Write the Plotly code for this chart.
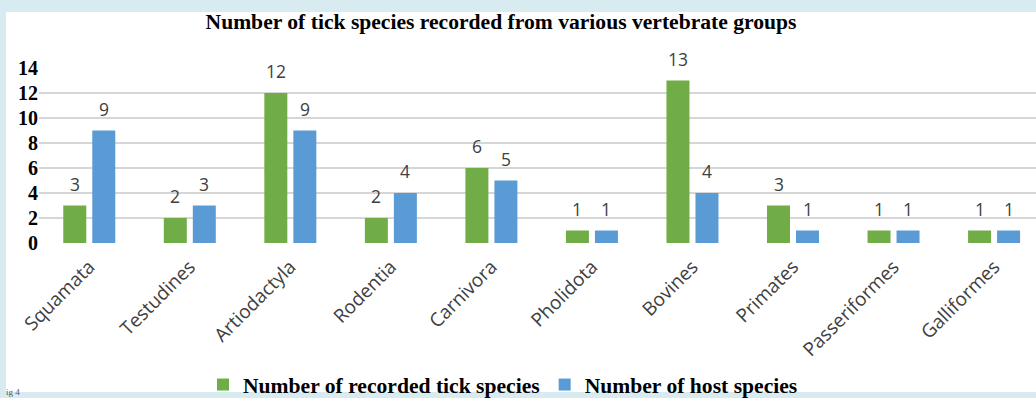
import plotly.graph_objects as go

categories = ["Squamata", "Testudines", "Artiodactyla", "Rodentia", "Carnivora",
              "Pholidota", "Bovines", "Primates", "Passeriformes", "Galliformes"]
tick_species = [3, 2, 12, 2, 6, 1, 13, 3, 1, 1]
host_species = [9, 3, 9, 4, 5, 1, 4, 1, 1, 1]
series_names = ["Number of recorded tick species", "Number of host species"]
y_ticks = [0, 2, 4, 6, 8, 10, 12, 14]

W, H = 1036, 398
L, R, T, B = 39, 0, 68, 155
pw, ph = W - L - R, H - T - B

GREEN = "#70ad47"
BLUE = "#5b9bd5"
LABEL = "#404040"
FRAME = "#d7ebf1"

fig = go.Figure()
fig.add_trace(go.Bar(x=categories, y=tick_species, name=series_names[0],
                     marker=dict(color=GREEN, line=dict(width=0))))
fig.add_trace(go.Bar(x=categories, y=host_species, name=series_names[1],
                     marker=dict(color=BLUE, line=dict(width=0))))

bargap = 0.423
bargroupgap = 0.207
cat_w = pw / 9.917
slot = cat_w * (1 - bargap) / 2

annotations = []
for vals, shift in ((tick_species, -slot / 2), (host_species, slot / 2)):
    for c, v in zip(categories, vals):
        annotations.append(dict(x=c, y=v, xref="x", yref="y", text=str(v),
                                showarrow=False, yanchor="bottom", xshift=shift, yshift=8,
                                font=dict(family="Open Sans", size=17.5, color=LABEL)))

def px2paper_x(px):
    return (px - L) / pw

def px2paper_y(py):
    return (H - B - py) / ph

# clipped figure caption fragment at the lower-left corner
annotations.append(dict(x=px2paper_x(4), y=px2paper_y(392), xref="paper", yref="paper",
                        text="ig 4", showarrow=False, xanchor="left", yanchor="middle",
                        font=dict(family="Liberation Serif", size=9, color="#555555")))

fig.add_shape(type="rect", xref="paper", yref="paper",
              x0=px2paper_x(6), x1=px2paper_x(1040), y0=px2paper_y(392), y1=px2paper_y(12),
              fillcolor="white", line=dict(width=0), layer="below")

fig.update_layout(
    width=W, height=H,
    margin=dict(l=L, r=R, t=T, b=B, autoexpand=False),
    paper_bgcolor=FRAME,
    plot_bgcolor="white",
    barmode="group", bargap=bargap, bargroupgap=bargroupgap,
    title=dict(text="Number of tick species recorded from various vertebrate groups",
               x=px2paper_x(501), xref="paper", xanchor="center",
               y=1 - 21 / H, yanchor="middle",
               font=dict(family="Liberation Serif", size=21.6, color="black", weight="bold")),
    xaxis=dict(range=[-0.5, 9.417], tickangle=-45, showgrid=False, showline=False,
               ticks="", automargin=False, ticklabelstandoff=8,
               tickfont=dict(family="Open Sans", size=19, color=LABEL)),
    yaxis=dict(range=[0, 14], tickvals=y_ticks, showgrid=True, gridcolor="#d6d6d6",
               gridwidth=1.5, zeroline=False, showline=False, ticks="", automargin=False,
               tickfont=dict(family="Liberation Serif", size=20, color="black", weight="bold")),
    legend=dict(orientation="h", x=px2paper_x(503), xanchor="center",
                y=px2paper_y(385), yanchor="middle",
                font=dict(family="Liberation Serif", size=21.6, color="black", weight="bold"),
                bgcolor="rgba(0,0,0,0)", itemwidth=30, traceorder="normal"),
    annotations=annotations,
    showlegend=True,
)

fig.write_html("out.html", config={"displayModeBar": False},
               post_script="document.body.style.margin='0';document.body.style.background='%s';" % FRAME)
